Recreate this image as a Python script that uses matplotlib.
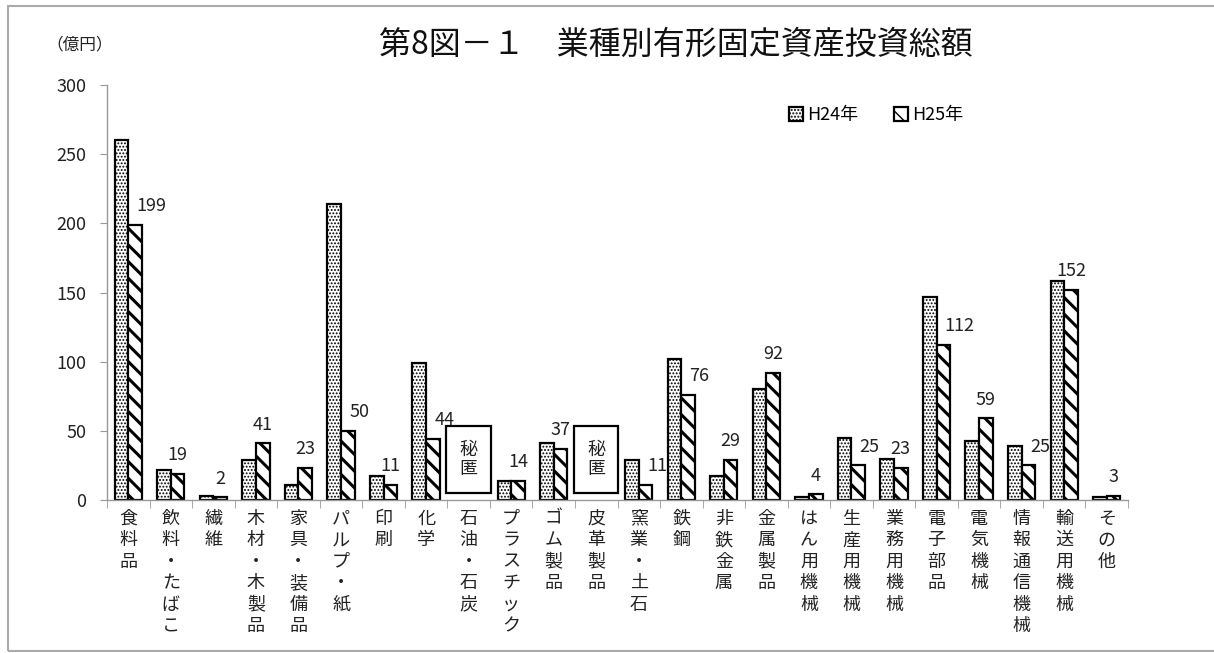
import matplotlib
matplotlib.use("Agg")
import matplotlib.pyplot as plt
from matplotlib.patches import Rectangle
import numpy as np

plt.rcParams['font.family'] = ['Noto Sans CJK JP', 'DejaVu Sans']

categories = ["食料品", "飲料・たばこ", "繊維", "木材・木製品", "家具・装備品", "パルプ・紙",
              "印刷", "化学", "石油・石炭", "プラスチック", "ゴム製品", "皮革製品",
              "窯業・土石", "鉄鋼", "非鉄金属", "金属製品", "はん用機械", "生産用機械",
              "業務用機械", "電子部品", "電気機械", "情報通信機械", "輸送用機械", "その他"]
# None = 秘匿
h24 = [260, 22, 3, 29, 11, 214, 17, 99, None, 14, 41, None,
       29, 102, 17, 80, 2, 45, 30, 147, 43, 39, 158, 2]
h25 = [199, 19, 2, 41, 23, 50, 11, 44, None, 14, 37, None,
       11, 76, 29, 92, 4, 25, 23, 112, 59, 25, 152, 3]
series_names = ["H24年", "H25年"]
yticks = [0, 50, 100, 150, 200, 250, 300]

W, H = 1214, 653
fig = plt.figure(figsize=(W / 100, H / 100), dpi=100)
ax = fig.add_axes([107 / W, 1 - 500 / H, (1128 - 107) / W, (500 - 85) / H])

x = np.arange(len(categories))
v24 = np.array([np.nan if v is None else v for v in h24], dtype=float)
v25 = np.array([np.nan if v is None else v for v in h25], dtype=float)
bw = 0.32

with plt.rc_context({'hatch.linewidth': 0.9}):
    b1 = ax.bar(x - bw / 2, v24, bw, facecolor='white', edgecolor='black',
                linewidth=1.6, hatch='.....', label=series_names[0], zorder=2)
with plt.rc_context({'hatch.linewidth': 2.2}):
    b2 = ax.bar(x + bw / 2, v25, bw, facecolor='white', edgecolor='black',
                linewidth=1.6, hatch='\\\\', label=series_names[1], zorder=2)

# value labels for H25 (shifted right when the H24 bar is in the way)
for i, v in enumerate(h25):
    if v is None:
        continue
    a = h24[i]
    if a is not None and a > v + 11:
        ax.annotate(str(v), (x[i] + bw / 2, v), xytext=(1, 7), textcoords='offset points',
                    ha='left', va='bottom', fontsize=13, color='#222222')
    else:
        ax.annotate(str(v), (x[i] + bw / 2, v), xytext=(0, 7), textcoords='offset points',
                    ha='center', va='bottom', fontsize=13, color='#222222')

# 秘匿 boxes
for i, v in enumerate(h24):
    if v is None:
        ax.add_patch(Rectangle((x[i] - 0.52, 5), 1.04, 48.5, facecolor='white',
                               edgecolor='black', linewidth=1.6, zorder=3))
        ax.text(x[i], 29.5, "秘\n匿", ha='center', va='center', fontsize=13,
                linespacing=1.1, color='#222222', zorder=4)

ax.set_xlim(-0.5, len(categories) - 0.5)
ax.set_ylim(0, 300)
ax.set_yticks(yticks)
ax.tick_params(axis='y', labelsize=13, length=5, color='#999999', pad=10, labelcolor='#222222')
ax.set_xticks(x)
ax.set_xticklabels(["\n".join(c) for c in categories], fontsize=13, linespacing=1.25,
                   color='#222222', va='top')
ax.tick_params(axis='x', which='major', length=0, pad=7)
ax.set_xticks(np.arange(len(categories) + 1) - 0.5, minor=True)
ax.tick_params(axis='x', which='minor', length=6, color='#999999')

for s in ['top', 'right']:
    ax.spines[s].set_visible(False)
for s in ['left', 'bottom']:
    ax.spines[s].set_color('#999999')
    ax.spines[s].set_linewidth(1.0)

ax.legend(loc='center', bbox_to_anchor=(876 / W, 1 - 115 / H), bbox_transform=fig.transFigure,
          ncol=2, frameon=False, fontsize=13, handlelength=0.8, handleheight=0.8,
          handletextpad=0.2, columnspacing=2.0)

fig.text(676 / W, 1 - 45 / H, "第8図－１　業種別有形固定資産投資総額", ha='center', va='center',
         fontsize=23, color='#111111')
fig.text(80 / W, 1 - 45 / H, "（億円）", ha='center', va='center', fontsize=12, color='#222222')

# outer frame
fig.patches.append(Rectangle((8 / W, 1 - 651 / H), 1.2, (651 - 6) / H, transform=fig.transFigure,
                             fill=False, edgecolor='#aaaaaa', linewidth=1.5))

fig.savefig("out.png", dpi=100)
